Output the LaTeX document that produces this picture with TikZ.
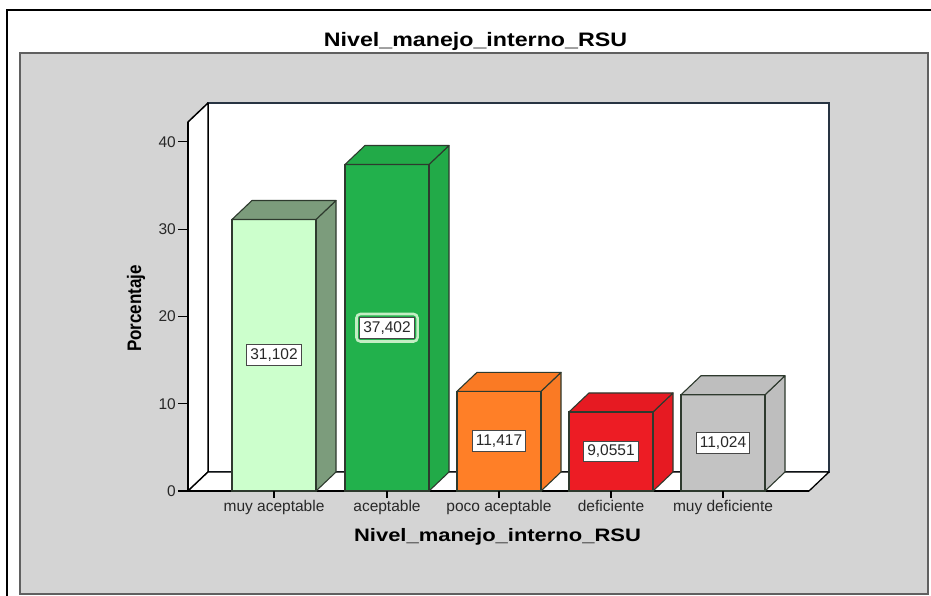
\documentclass[tikz,border=0pt]{standalone}
\usepackage{fontspec}
\setmainfont{Liberation Sans}
\definecolor{panelgray}{RGB}{212,212,212}
\definecolor{panelline}{RGB}{96,96,96}
\definecolor{wallline}{RGB}{40,52,66}
\definecolor{barline}{RGB}{46,58,46}
\definecolor{lightgreenF}{RGB}{204,255,204}
\definecolor{lightgreenS}{RGB}{124,156,124}
\definecolor{greenF}{RGB}{34,177,76}
\definecolor{greenS}{RGB}{34,170,72}
\definecolor{orangeF}{RGB}{255,127,39}
\definecolor{orangeS}{RGB}{250,122,36}
\definecolor{redF}{RGB}{237,28,36}
\definecolor{redS}{RGB}{230,26,34}
\definecolor{grayF}{RGB}{195,195,195}
\definecolor{grayS}{RGB}{190,190,190}
\definecolor{labtext}{RGB}{40,40,40}
\definecolor{glow}{RGB}{196,238,196}

% one 3-D bar: #1 name, #2 left x, #3 value (%), #4 front colour, #5 side colour, #6 printed value
\newcommand\chartbar[6]{%
  \pgfmathsetmacro\barh{#3*8.73}%
  \node[barface, fill=#4, minimum height=\barh pt] (#1) at (#2,491) {};
  \filldraw[fill=#5, draw=barline, line width=1.1pt, line join=round]
    (#1.south east) -- (#1.north east) -- ++(20,-19)
    -- ([shift={(20,-19)}]#1.south east) -- cycle;
  \filldraw[fill=#5, draw=barline, line width=1.1pt, line join=round]
    (#1.north west) -- ++(20,-19) -- ++(84,0) -- (#1.north east) -- cycle;
  \draw[barline, line width=1.1pt] (#1.south west) rectangle (#1.north east);
  \node[valbox] (#1-val) at (#1.center) {#6};
}

\begin{document}
\begin{tikzpicture}[x=1pt, y=-1pt,
  barface/.style={anchor=south west, minimum width=84pt, inner sep=0pt, outer sep=0pt},
  valbox/.style={draw=black!72, fill=white, line width=1.1pt, text=labtext,
    font=\fontsize{15.5}{18}\selectfont, inner xsep=3.5pt, inner ysep=4pt},
  ticklab/.style={text=labtext, font=\fontsize{15.5}{18}\selectfont, inner sep=0pt},
  axisline/.style={black, line width=1.6pt}
]
\useasboundingbox (0,0) rectangle (931,596);
\clip (0,0) rectangle (931,596);
\fill[white] (0,0) rectangle (931,596);

% outer frame and chart panel
\draw[black, line width=1.5pt] (7,10) rectangle (960,640);
\filldraw[fill=panelgray, draw=panelline, line width=1.8pt] (20,53) rectangle (928,594);

% title
\node[font=\bfseries\fontsize{19.5}{22}\selectfont, xscale=1.19, anchor=base, inner sep=0pt]
  (title) at (475.5,47) {Nivel\_manejo\_interno\_RSU};

% walls and floor
\filldraw[fill=white, draw=wallline, line width=1.8pt] (208,103) rectangle (829,472);
\filldraw[fill=white, draw=black, line width=1.5pt, line join=round]
  (188,122) -- (208,103) -- (208,472) -- (188,491) -- cycle;
\filldraw[fill=white, draw=black, line width=1.3pt, line join=round]
  (188,491) -- (208,472) -- (829,472) -- (809,491) -- cycle;
\draw[axisline] (188,122) -- (188,491) -- (809,491);

% value axis
\foreach \v in {0,10,20,30,40} {
  \draw[black, line width=1.2pt] (178,{491-\v*8.73}) -- (188,{491-\v*8.73});
  \node[ticklab, anchor=base east] at (176,{491-\v*8.73+5.5}) {\v};
}

% bars
\chartbar{b1}{232}{31.102}{lightgreenF}{lightgreenS}{31,102}
\chartbar{b2}{345}{37.402}{greenF}{greenS}{37,402}
\chartbar{b3}{457}{11.417}{orangeF}{orangeS}{11,417}
\chartbar{b4}{569}{9.0551}{redF}{redS}{9,0551}
\chartbar{b5}{681}{11.024}{grayF}{grayS}{11,024}

% selection ring round the second value label
\draw[glow, line width=2.6pt, rounded corners=4pt]
  ([shift={(-2.8,-2.8)}]b2-val.north west) rectangle ([shift={(2.8,2.8)}]b2-val.south east);
\node[valbox] at (b2-val.center) {37,402};

% category axis
\foreach \b/\lab in {b1/muy aceptable, b2/aceptable, b3/poco aceptable, b4/deficiente, b5/muy deficiente} {
  \draw[black, line width=1.1pt] (\b.south) -- ++(0,7);
  \node[ticklab, anchor=base] at ([yshift=-20.5pt]\b.south) {\lab};
}

% axis titles
\node[font=\bfseries\fontsize{18}{21}\selectfont, xscale=1.22, anchor=base, inner sep=0pt]
  (xtitle) at (497.5,541) {Nivel\_manejo\_interno\_RSU};
\node[font=\bfseries\fontsize{17}{20}\selectfont, rotate=90, yscale=1.15, anchor=base, inner sep=0pt]
  (ytitle) at (141,308.5) {Porcentaje};
\end{tikzpicture}
\end{document}
